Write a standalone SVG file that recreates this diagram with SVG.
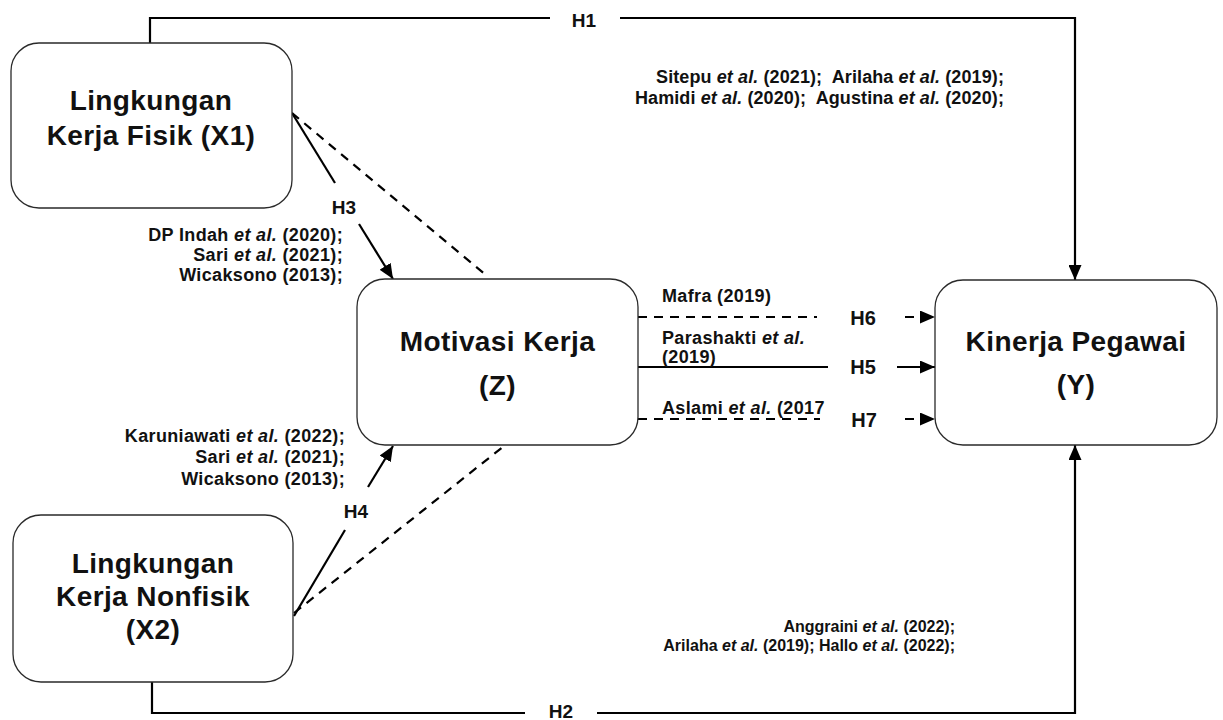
<svg xmlns="http://www.w3.org/2000/svg" width="1223" height="720" viewBox="0 0 1223 720">
<style>
.box{fill:#fff;stroke:#2a2a2a;stroke-width:1.3}
.title{font-family:"Liberation Sans",Arial,sans-serif;font-weight:bold;font-size:28px;letter-spacing:0.4px;fill:#111;text-anchor:middle}
.cite{font-family:"Liberation Sans",Arial,sans-serif;font-weight:bold;font-size:18px;letter-spacing:0.35px;fill:#111;white-space:pre}
.cite2{font-family:"Liberation Sans",Arial,sans-serif;font-weight:bold;font-size:16px;fill:#111}
.hl{font-family:"Liberation Sans",Arial,sans-serif;font-weight:bold;font-size:19px;fill:#111;text-anchor:middle}
.ln{fill:none;stroke:#000;stroke-width:2.2}
.dash{fill:none;stroke:#000;stroke-width:2.2;stroke-dasharray:9 7}
.it{font-style:italic}
</style>
<defs>
<marker id="arr" markerUnits="userSpaceOnUse" markerWidth="16" markerHeight="13" refX="15" refY="6.5" orient="auto">
<path d="M0,0 L15,6.5 L0,13 z" fill="#000"/>
</marker>
</defs>
<rect width="1223" height="720" fill="#fff"/>

<g id="connectors">
<polyline class="ln" points="150,43 150,18 550,18"/>
<polyline class="ln" points="620,18 1075,18 1075,280" marker-end="url(#arr)"/>
<polyline class="ln" points="152,682 152,713 525,713"/>
<polyline class="ln" points="597,713 1075,713 1075,445" marker-end="url(#arr)"/>
<line class="ln" x1="292" y1="113" x2="335" y2="183"/>
<line class="ln" x1="359" y1="224" x2="393" y2="279" marker-end="url(#arr)"/>
<line class="dash" x1="292" y1="113" x2="487" y2="276"/>
<line class="ln" x1="294" y1="616" x2="345" y2="530"/>
<line class="ln" x1="368" y1="487" x2="393" y2="446" marker-end="url(#arr)"/>
<line class="dash" x1="294" y1="613" x2="504" y2="446"/>
<line class="dash" x1="638" y1="317" x2="817" y2="317"/>
<line class="dash" x1="905" y1="317" x2="935" y2="317" marker-end="url(#arr)"/>
<line class="ln" x1="638" y1="367" x2="828" y2="367"/>
<line class="ln" x1="897" y1="367" x2="935" y2="367" marker-end="url(#arr)"/>
<line class="dash" x1="638" y1="419" x2="820" y2="419"/>
<line class="dash" x1="905" y1="419" x2="935" y2="419" marker-end="url(#arr)"/>

<text class="hl" x="584" y="26.5">H1</text>
<text class="hl" x="561" y="718">H2</text>
<text class="hl" x="344" y="214">H3</text>
<text class="hl" x="356" y="518">H4</text>
<text class="hl" x="863" y="374" style="font-size:20px">H5</text>
<text class="hl" x="863" y="325" style="font-size:20px">H6</text>
<text class="hl" x="864" y="427" style="font-size:20px">H7</text>

<text class="cite" text-anchor="end" style="letter-spacing:0.1px"><tspan x="1004" y="83">Sitepu <tspan class="it">et al.</tspan> (2021);  Arilaha <tspan class="it">et al.</tspan> (2019);</tspan><tspan x="1004" y="104">Hamidi <tspan class="it">et al.</tspan> (2020);  Agustina <tspan class="it">et al.</tspan> (2020);</tspan></text>
<text class="cite" text-anchor="end"><tspan x="343" y="241">DP Indah <tspan class="it">et al.</tspan> (2020);</tspan><tspan x="343" y="261">Sari <tspan class="it">et al.</tspan> (2021);</tspan><tspan x="343" y="281">Wicaksono (2013);</tspan></text>
<text class="cite" text-anchor="end"><tspan x="345" y="442">Karuniawati <tspan class="it">et al.</tspan> (2022);</tspan><tspan x="345" y="463">Sari <tspan class="it">et al.</tspan> (2021);</tspan><tspan x="345" y="485">Wicaksono (2013);</tspan></text>
<text class="cite"><tspan x="662" y="302">Mafra (2019)</tspan></text>
<text class="cite"><tspan x="662" y="344">Parashakti <tspan class="it">et al.</tspan></tspan><tspan x="662" y="363">(2019)</tspan></text>
<text class="cite"><tspan x="662" y="414">Aslami <tspan class="it">et al.</tspan> (2017</tspan></text>
<text class="cite2" text-anchor="end"><tspan x="955" y="632">Anggraini <tspan class="it">et al.</tspan> (2022);</tspan><tspan x="955" y="651">Arilaha <tspan class="it">et al.</tspan> (2019); Hallo <tspan class="it">et al.</tspan> (2022);</tspan></text>
</g>

<g id="node-x1">
<rect class="box" x="11" y="43" width="281" height="165" rx="28"/>
<text class="title"><tspan x="151" y="110">Lingkungan</tspan><tspan x="151" y="145">Kerja Fisik (X1)</tspan></text>
</g>
<g id="node-x2">
<rect class="box" x="13" y="515" width="280" height="167" rx="28"/>
<text class="title"><tspan x="153" y="573">Lingkungan</tspan><tspan x="153" y="606">Kerja Nonfisik</tspan><tspan x="153" y="639">(X2)</tspan></text>
</g>
<g id="node-z">
<rect class="box" x="357" y="279" width="281" height="166" rx="28"/>
<text class="title"><tspan x="497.5" y="351">Motivasi Kerja</tspan><tspan x="497.5" y="395">(Z)</tspan></text>
</g>
<g id="node-y">
<rect class="box" x="935" y="280" width="282" height="165" rx="28"/>
<text class="title"><tspan x="1076" y="351">Kinerja Pegawai</tspan><tspan x="1076" y="394">(Y)</tspan></text>
</g>
</svg>
